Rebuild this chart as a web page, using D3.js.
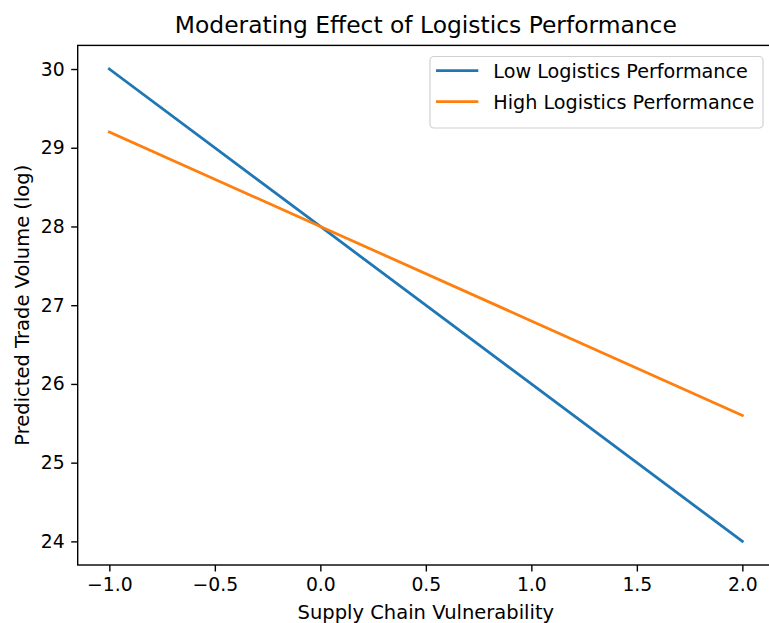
<!DOCTYPE html>
<html>
<head>
<meta charset="utf-8">
<script src="https://cdn.jsdelivr.net/npm/d3@7"></script>
<style>
  html, body { margin: 0; padding: 0; background: #fff; }
  svg { display: block; }
  text { font-family: "DejaVu Sans", sans-serif; fill: #000; }
</style>
</head>
<body>
<svg id="chart" width="769" height="623"></svg>
<script>
// ---- data ----
const xValues = [-1, 0, 1, 2];
const lowSeries = [30, 28, 26, 24];
const highSeries = [29.2, 28, 26.8, 25.6];
const seriesNames = ["Low Logistics Performance", "High Logistics Performance"];
const seriesColors = ["#1f77b4", "#ff7f0e"];
const xTicks = [-1.0, -0.5, 0.0, 0.5, 1.0, 1.5, 2.0];
const yTicks = [24, 25, 26, 27, 28, 29, 30];
const titleText = "Moderating Effect of Logistics Performance";
const xLabel = "Supply Chain Vulnerability";
const yLabel = "Predicted Trade Volume (log)";

// ---- layout ----
const svg = d3.select("#chart");
const mLeft = 77.7, mRight = 774, mTop = 45.4, mBottom = 565;
const tickFont = 18.8, labelFont = 19.5, legendFont = 19.2, titleFont = 23.4;

const x = d3.scaleLinear().domain([-1.15, 2.15]).range([mLeft, mRight]);
const y = d3.scaleLinear().domain([23.7, 30.3]).range([mBottom, mTop]);

const fmtX = v => (v < 0 ? "\u2212" : "") + Math.abs(v).toFixed(1);

// axes
const xAxis = svg.append("g").attr("transform", `translate(0,${mBottom})`)
  .call(d3.axisBottom(x).tickValues(xTicks).tickFormat(fmtX).tickSize(6.5).tickPadding(6.5));
const yAxis = svg.append("g").attr("transform", `translate(${mLeft},0)`)
  .call(d3.axisLeft(y).tickValues(yTicks).tickFormat(d3.format("d")).tickSize(6.5).tickPadding(6.5));
[xAxis, yAxis].forEach(g => {
  g.select(".domain").remove();
  g.selectAll(".tick line").attr("stroke", "#000").attr("stroke-width", 1.4);
  g.selectAll(".tick text").attr("font-family", "DejaVu Sans").attr("font-size", tickFont).attr("fill", "#000");
});

// lines
const line = d3.line().x(d => x(d[0])).y(d => y(d[1]));
const plot = svg.append("g");
[lowSeries, highSeries].forEach((s, i) => {
  plot.append("path")
    .datum(xValues.map((xv, j) => [xv, s[j]]))
    .attr("d", line)
    .attr("fill", "none")
    .attr("stroke", seriesColors[i])
    .attr("stroke-width", 2.8)
    .attr("stroke-linecap", "square");
});

// spines
svg.append("rect").attr("x", mLeft).attr("y", mTop)
  .attr("width", mRight - mLeft).attr("height", mBottom - mTop)
  .attr("fill", "none").attr("stroke", "#000").attr("stroke-width", 1.4);

// title & labels
svg.append("text").attr("x", (mLeft + mRight) / 2).attr("y", 33)
  .attr("text-anchor", "middle").attr("font-size", titleFont).text(titleText);
svg.append("text").attr("x", (mLeft + mRight) / 2).attr("y", 619)
  .attr("text-anchor", "middle").attr("font-size", labelFont).text(xLabel);
svg.append("text").attr("transform", `translate(28.5,${(mTop + mBottom) / 2}) rotate(-90)`)
  .attr("text-anchor", "middle").attr("font-size", labelFont).text(yLabel);

// legend
const lg = svg.append("g");
lg.append("rect").attr("x", 430).attr("y", 56.5).attr("width", 333).attr("height", 71.5)
  .attr("rx", 4).attr("fill", "#fff").attr("fill-opacity", 0.8)
  .attr("stroke", "#d0d0d0").attr("stroke-width", 1.2);
seriesNames.forEach((name, i) => {
  const cy = 70.7 + i * 31;
  lg.append("line").attr("x1", 436).attr("x2", 478.3).attr("y1", cy).attr("y2", cy)
    .attr("stroke", seriesColors[i]).attr("stroke-width", 2.8);
  lg.append("text").attr("x", 493.3).attr("y", cy + 7.3)
    .attr("font-size", legendFont).text(name);
});
</script>
</body>
</html>
